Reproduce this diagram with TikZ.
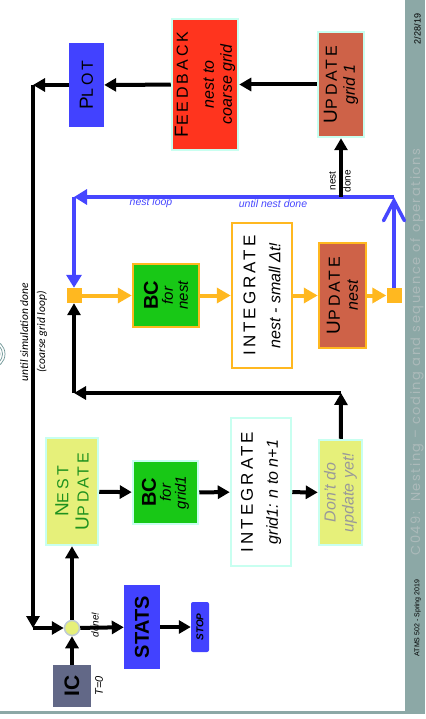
\documentclass[tikz,border=0pt]{standalone}
\usepackage{fontspec}
\setmainfont{Liberation Sans}
\newfontfamily\capsfont[LetterSpace=18]{Liberation Sans}
\newfontfamily\notefont{Carlito}
\newfontfamily\barfont[LetterSpace=12]{Poppins}
\usetikzlibrary{arrows.meta}

\definecolor{plotblue}{RGB}{66,66,255}
\definecolor{loopblue}{RGB}{70,70,255}
\definecolor{fbred}{RGB}{255,52,30}
\definecolor{updred}{RGB}{206,98,72}
\definecolor{bcgreen}{RGB}{24,200,22}
\definecolor{nestyellow}{RGB}{230,240,122}
\definecolor{nestgreen}{RGB}{30,145,30}
\definecolor{edgecyan}{RGB}{200,255,240}
\definecolor{loopgold}{RGB}{255,184,32}
\definecolor{icgray}{RGB}{98,104,135}
\definecolor{juncring}{RGB}{190,202,212}
\definecolor{barteal}{RGB}{140,168,166}
\definecolor{bartext}{RGB}{172,186,186}
\definecolor{logoteal}{RGB}{110,150,150}

% first letter big, rest small (fake small caps)
\newcommand{\bigsmall}[2]{{\fontsize{19}{19}\selectfont #1}{\fontsize{16}{16}\selectfont #2}}

\begin{document}
\begin{tikzpicture}[x=1pt, y=-1pt]

\tikzstyle{every node} = [rotate=90, inner sep=0pt, align=center]
\tikzstyle{box} = [rectangle, draw=edgecyan, line width=2.5pt]
\tikzstyle{nestbox} = [rectangle, draw=loopgold, line width=2.5pt]
\tikzstyle{arr} = [line width=4pt, -{Triangle[length=12pt,width=13pt]}]
\tikzstyle{goldarr} = [line width=4pt, loopgold, -{Triangle[length=14pt,width=15pt]}]
\tikzstyle{bluearr} = [line width=3.5pt, loopblue, -{Triangle[length=13pt,width=15pt]}]
\tikzstyle{bluebarb} = [line width=3.5pt, loopblue, -{Straight Barb[length=20pt,width=21pt,line cap=round]}]

\useasboundingbox (0,0) rectangle (425,719);
\clip (0,0) rectangle (425,719);

% slide frame
\fill[barteal] (405,0) rectangle (425,712);
\fill[barteal] (0,711) rectangle (425,714);
\draw[logoteal, line width=0.7pt] (-9,354) circle (9) (-9,354) circle (11.5) (-9,354) circle (14);

\node[text=black, font=\fontsize{9}{9}\selectfont] (datelbl) at (417.5,29) {2/28/19};
\node[text=bartext, font=\barfont\fontsize{13}{13}\selectfont] (titlelbl) at (417,352) {C049:~~Nesting~–~coding and sequence of operations};
\node[text=black, font=\fontsize{7}{7}\selectfont] (courselbl) at (417.5,618) {ATMS 502 - Spring 2019};

% coarse grid
\node[fill=icgray, minimum width=42pt, minimum height=38pt] (ic) at (72,686) {\bfseries\fontsize{21}{21}\selectfont IC};
\node[circle, fill=nestyellow, draw=juncring, line width=1.5pt, minimum size=15pt] (junc) at (72,628) {};
\node[fill=plotblue, minimum width=84pt, minimum height=36pt] (stats) at (142,627) {\bfseries\fontsize{20}{20}\selectfont STATS};
\node[fill=plotblue, rounded corners=2pt, minimum width=50pt, minimum height=18pt] (stop) at (200,627) {\bfseries\itshape\fontsize{10}{10}\selectfont STOP};

\node[box, fill=nestyellow, text=nestgreen, minimum width=107pt, minimum height=52pt] (nestupd) at (72,491.5) {\capsfont\bigsmall{N}{EST}\\[6pt]\capsfont\bigsmall{U}{PDATE}};
\node[box, fill=bcgreen, minimum width=63pt, minimum height=65pt, font=\fontsize{15}{15}\selectfont] (bcgrid) at (165.5,492.5) {{\bfseries\fontsize{20}{20}\selectfont BC}\\\itshape for\\\itshape grid1};
\node[box, fill=white, minimum width=148pt, minimum height=60pt, font=\fontsize{16}{18}\selectfont] (intgrid) at (261,492) {\capsfont\fontsize{17}{17}\selectfont INTEGRATE\\[7pt]\itshape grid1: n to n+1};
\node[box, fill=nestyellow, text=gray!80, minimum width=105pt, minimum height=43pt, font=\itshape\fontsize{16}{18}\selectfont] (dontdo) at (340.5,492.5) {Don't do\\update yet!};

% nest loop
\node[fill=loopgold, minimum size=15pt] (sqL) at (74,295.5) {};
\node[nestbox, fill=bcgreen, minimum width=63pt, minimum height=66pt, font=\fontsize{15}{15}\selectfont] (bcnest) at (166,295.5) {{\bfseries\fontsize{20}{20}\selectfont BC}\\\itshape for\\\itshape nest};
\node[nestbox, fill=white, minimum width=145pt, minimum height=60pt, font=\fontsize{16}{18}\selectfont] (intnest) at (262,295.5) {\capsfont\fontsize{17}{17}\selectfont INTEGRATE\\[7pt]\itshape nest - small Δt!};
\node[nestbox, fill=updred, minimum width=105pt, minimum height=47pt, font=\fontsize{16}{18}\selectfont] (updnest) at (342.5,295.5) {\capsfont\bigsmall{U}{PDATE}\\\itshape nest};
\node[fill=loopgold, minimum size=15pt] (sqR) at (394,295.5) {};

% feedback to coarse grid
\node[box, fill=updred, minimum width=105pt, minimum height=46pt, font=\fontsize{16}{18}\selectfont] (updgrid) at (341,84.5) {\capsfont\bigsmall{U}{PDATE}\\\itshape grid 1};
\node[box, fill=fbred, minimum width=131pt, minimum height=66pt, font=\fontsize{16}{18}\selectfont] (feedback) at (205,84.5) {\capsfont\bigsmall{F}{EEDBACK}\\[8pt]\itshape nest to\\\itshape coarse grid};
\node[fill=plotblue, minimum width=84pt, minimum height=35pt] (plot) at (86.5,85) {\capsfont\bigsmall{P}{LOT}};

% labels
\node (tzero) at (99,686) {\itshape\fontsize{11}{11}\selectfont T=0};
\node (donelbl) at (95,625) {\itshape\fontsize{10}{10}\selectfont done!};
\node[font=\notefont\itshape\fontsize{11.5}{17}\selectfont] (outerlbl) at (33.5,332) {until simulation done\\(coarse grid loop)};
\node[font=\fontsize{10}{15}\selectfont] (nestdonelbl) at (340,181) {nest\\done};
% these two lie flat: undo the turn of every node
\node[rotate=-90, text=loopblue, font=\itshape\fontsize{10.5}{10.5}\selectfont] (nestlooplbl) at (151,203) {nest loop};
\node[rotate=-90, text=loopblue, font=\itshape\fontsize{10.5}{10.5}\selectfont] (untillbl) at (273,204) {until nest done};

% corners
\coordinate (tl) at (33,85);
\coordinate (bl) at (33,628);
\coordinate (midR) at (341,393);
\coordinate (midL) at (74,393);
\coordinate (loopL) at (74,197);
\coordinate (loopR) at (394,197);
\coordinate (nestout) at (341,197);

\draw[arr] (ic) -- (junc);
\draw[arr] (tl) -- (bl);
\draw[arr] (bl) -- (junc);
\draw[arr] (junc) -- (stats);
\draw[arr] (stats) -- (stop);
\draw[arr] (junc) -- (nestupd);
\draw[arr] (nestupd) -- (bcgrid);
\draw[arr] (bcgrid) -- (intgrid);
\draw[arr] (intgrid) -- (dontdo);
\draw[arr] (dontdo) -- (midR);
\draw[arr] (midR) -- (midL);
\draw[arr] (midL) -- (sqL);

\draw[goldarr] (sqL) -- (bcnest);
\draw[goldarr] (bcnest) -- (intnest);
\draw[goldarr] (intnest) -- (updnest);
\draw[goldarr] (updnest) -- (sqR);

\draw[bluebarb] (sqR) -- (loopR);
\draw[bluearr] (loopR) -- (loopL);
\draw[bluearr] (loopL) -- (sqL);

\draw[arr] (nestout) -- (updgrid);
\draw[arr] (updgrid) -- (feedback);
\draw[arr] (feedback) -- (plot);
\draw[arr] (plot) -- (tl);

\end{tikzpicture}
\end{document}
